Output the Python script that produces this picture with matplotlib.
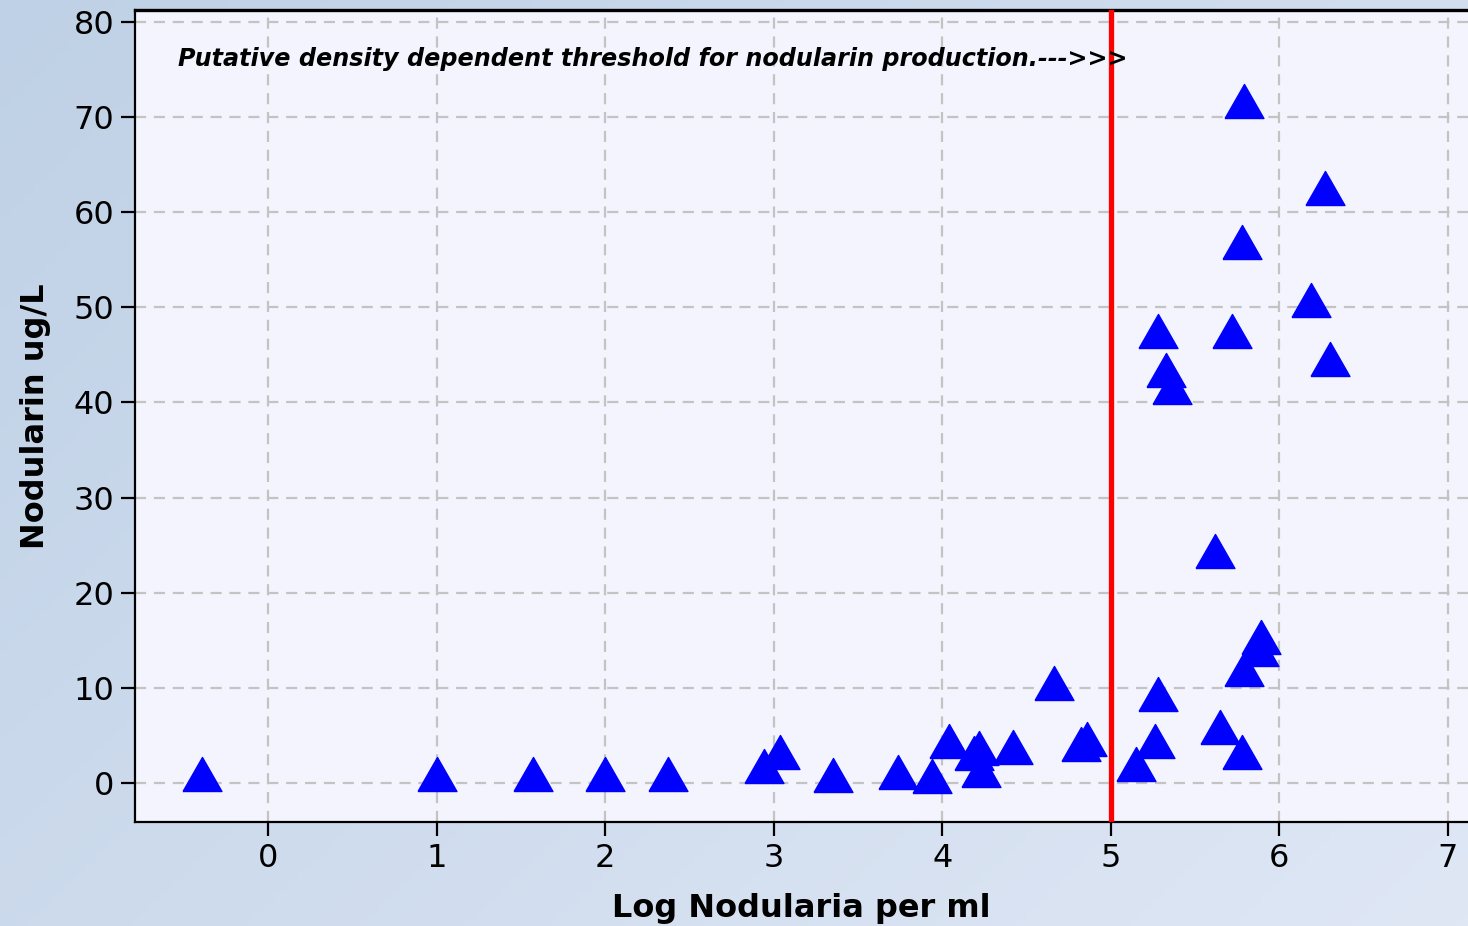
import numpy as np
import matplotlib
matplotlib.use("Agg")
import matplotlib.pyplot as plt
from matplotlib.colors import LinearSegmentedColormap

# ---- data ----
log_nodularia = [-0.39, 1.00, 1.57, 2.00, 2.37, 2.94, 3.04, 3.35, 3.74, 3.94,
                 4.04, 4.19, 4.22, 4.23, 4.42, 4.66, 4.82, 4.86,
                 5.15, 5.26, 5.28, 5.28, 5.33, 5.36, 5.62, 5.65, 5.72, 5.78,
                 5.78, 5.79, 5.79, 5.88, 5.89, 6.19, 6.27, 6.30]
nodularin = [0.9, 0.9, 0.9, 0.9, 0.9, 1.8, 3.3, 0.85, 1.2, 0.75,
             4.4, 3.2, 3.7, 1.4, 3.8, 10.5, 4.1, 4.6,
             2.0, 4.4, 9.4, 47.5, 43.4, 41.6, 24.4, 5.9, 47.5, 3.3,
             56.9, 12.0, 71.7, 14.1, 15.3, 50.8, 62.5, 44.6]
threshold = 5.0
x_ticks = [0, 1, 2, 3, 4, 5, 6, 7]
y_ticks = [0, 10, 20, 30, 40, 50, 60, 70, 80]
annotation = "Putative density dependent threshold for nodularin production.--->>>"
x_label = "Log Nodularia per ml"
y_label = "Nodularin ug/L"

W, H = 1468, 926
fig = plt.figure(figsize=(W / 100, H / 100), dpi=100)

# gradient background
bg = fig.add_axes([0, 0, 1, 1], zorder=-10)
gx, gy = np.meshgrid(np.linspace(0, 1, 256), np.linspace(0, 1, 256))
grad = (gx * 0.6 + gy * 0.4)
cmap = LinearSegmentedColormap.from_list("bg", ["#bfd1e6", "#dfe7f5"])
bg.imshow(grad, cmap=cmap, aspect="auto", extent=[0, 1, 0, 1], origin="upper")
bg.axis("off")

left, bottom, top = 135 / W, (H - 822) / H, (H - 10) / H
ax = fig.add_axes([left, bottom, 1 - left, top - bottom])
ax.set_facecolor("#f3f4fd")

px_per_x = (1448 - 268) / 7
px_per_y = (783 - 22) / 80
ax.set_xlim((135 - 268) / px_per_x, (1468 - 268) / px_per_x)
ax.set_ylim(-(822 - 783) / px_per_y, (783 - 10) / px_per_y)

ax.set_xticks(x_ticks)
ax.set_yticks(y_ticks)
ax.grid(True, color="#c3c3c3", linewidth=1.6, linestyle=(0, (5, 3.5)))
ax.set_axisbelow(True)

for s in ["left", "bottom"]:
    ax.spines[s].set_linewidth(1.6)
ax.spines["top"].set_linewidth(2.4)
ax.spines["right"].set_visible(False)

ax.tick_params(axis="both", direction="out", length=10, width=1.6,
               labelsize=23, pad=5, colors="black")

ax.axvline(threshold, color="#ff0000", linewidth=3.8, zorder=3)

tri = [(-1, -0.875), (1, -0.875), (0, 0.875), (-1, -0.875)]
ax.plot(log_nodularia, nodularin, linestyle="none", marker=tri,
        markersize=28, color="#0000ff", markeredgecolor="#0000ff",
        markeredgewidth=1.0, zorder=4, clip_on=False)

ax.text((178 - 268) / px_per_x, (783 - 59) / px_per_y, annotation,
        fontsize=17.2, fontweight="bold", fontstyle="italic",
        va="center", ha="left", color="black")

ax.set_xlabel(x_label, fontsize=23, fontweight="bold", labelpad=14)
ax.set_ylabel(y_label, fontsize=23, fontweight="bold", labelpad=16)

fig.savefig("out.png", dpi=100)
